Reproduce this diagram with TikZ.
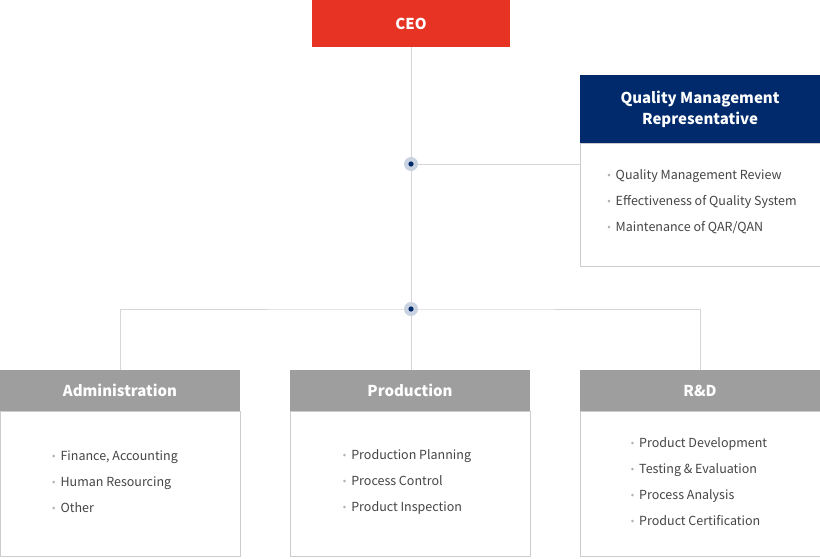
\documentclass[tikz,border=0pt]{standalone}
\usepackage{fontspec}
\setmainfont{Noto Sans CJK KR}
\usetikzlibrary{positioning}
\definecolor{ceored}{HTML}{E63323}
\definecolor{qmrblue}{HTML}{002A6B}
\definecolor{headgray}{HTML}{9E9E9E}
\definecolor{boxline}{HTML}{CCCCCC}
\definecolor{wire}{HTML}{D6D6D6}
\definecolor{halo}{HTML}{C9D2E0}
\definecolor{itemgray}{HTML}{444444}
\definecolor{dotgray}{HTML}{B0B0B0}
\newcommand{\itm}{{\color{dotgray}\fontsize{10}{10}\selectfont\raisebox{1pt}{•}}\hspace{5pt}}
\tikzstyle{head} = [rectangle, minimum width=240pt, minimum height=41pt, inner sep=0pt, fill=headgray, text=white, font=\bfseries\fontsize{15}{18}\selectfont]
\tikzstyle{body} = [rectangle, minimum width=240pt, minimum height=145pt, inner sep=0pt, draw=boxline, fill=white]
\tikzstyle{items} = [align=left, inner sep=0pt, text=itemgray, font=\fontsize{12.5}{26}\selectfont]
\tikzstyle{wire} = [draw=wire, line width=1pt]

\begin{document}
\begin{tikzpicture}[x=1pt, y=-1pt]
        \useasboundingbox (0,0) rectangle (820,558);
        \node (ceo) [head, fill=ceored, minimum width=198pt, minimum height=47pt] at (411,23.5) {CEO};
        \node (qmr) [head, fill=qmrblue, minimum height=68pt, align=center, font=\bfseries\fontsize{15}{21}\selectfont] at (700,109) {Quality Management\\Representative};
        \node (qmrbody) [body, minimum height=123pt, below=0pt of qmr] {};
        \node (adm) [head] at (120,390.5) {Administration};
        \node (prod) [head] at (410,390.5) {Production};
        \node (rnd) [head] at (700,390.5) {R\&D};
        \node (admbody) [body, below=0pt of adm] {};
        \node (prodbody) [body, below=0pt of prod] {};
        \node (rndbody) [body, below=0pt of rnd] {};

        \coordinate (dotA) at (411,164);
        \coordinate (dotB) at (411,309);

        \draw [wire] (ceo.south) -- (ceo.south |- prod.north);
        \draw [wire] (dotA) -- (dotA -| qmrbody.west);
        \draw [wire] (adm.north) |- (dotB) -| (rnd.north);

        \foreach \d in {dotA, dotB} {
            \fill [halo] (\d) circle (7pt);
            \fill [qmrblue] (\d) circle (2.6pt);
        }

        \node (qmritems) [items] at ([xshift=2pt, yshift=3pt]qmrbody.center) {\itm Quality Management Review\\ \itm Effectiveness of Quality System\\ \itm Maintenance of QAR/QAN};
        \node (admitems) [items] at ([xshift=-5pt, yshift=2pt]admbody.center) {\itm Finance, Accounting\\ \itm Human Resourcing\\ \itm Other};
        \node (proditems) [items] at ([xshift=-3pt, yshift=2pt]prodbody.center) {\itm Production Planning\\ \itm Process Control\\ \itm Product Inspection};
        \node (rnditems) [items] at ([xshift=-1pt, yshift=2pt]rndbody.center) {\itm Product Development\\ \itm Testing \& Evaluation\\ \itm Process Analysis\\ \itm Product Certification};
\end{tikzpicture}
\end{document}
